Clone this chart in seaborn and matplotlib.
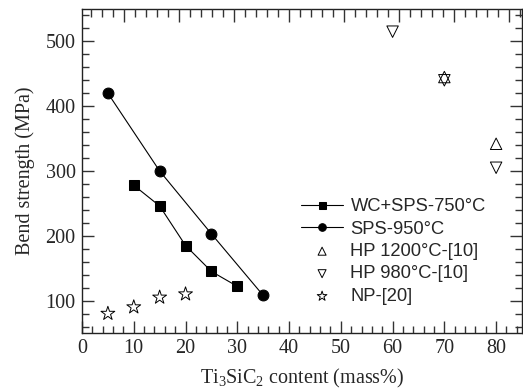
import matplotlib
matplotlib.use("Agg")
import matplotlib.pyplot as plt
from matplotlib.ticker import MultipleLocator
import seaborn as sns

# ---- data ----
x_wc = [10, 15, 20, 25, 30]
y_wc = [278, 246, 185, 145, 122]
x_sps = [5, 15, 25, 35]
y_sps = [420, 300, 203, 108]
x_hp1200 = [70, 80]
y_hp1200 = [445, 342]
x_hp980 = [60, 70, 80]
y_hp980 = [515, 440, 305]
x_np = [5, 10, 15, 20]
y_np = [80, 90, 105, 110]

labels = ["WC+SPS-750\u00b0C", "SPS-950\u00b0C", "HP 1200\u00b0C-[10]",
          "HP 980\u00b0C-[10]", "NP-[20]"]

sns.set_style("ticks")
plt.rcParams["font.family"] = ["Liberation Serif", "DejaVu Serif"]
plt.rcParams["mathtext.fontset"] = "custom"
plt.rcParams["mathtext.rm"] = "Liberation Serif"
plt.rcParams["mathtext.it"] = "Liberation Serif:italic"

fig = plt.figure(figsize=(5.23, 3.9), dpi=100)
ax = fig.add_axes([82 / 523, 1 - 333 / 390, (522 - 82) / 523, (333 - 9) / 390])

lw = 0.8
sns.lineplot(x=x_wc, y=y_wc, ax=ax, color="black", linewidth=lw, marker="s",
             markersize=7.2, markeredgecolor="black", markerfacecolor="black",
             label=labels[0])
sns.lineplot(x=x_sps, y=y_sps, ax=ax, color="black", linewidth=lw, marker="o",
             markersize=7.8, markeredgecolor="black", markerfacecolor="black",
             label=labels[1])
sns.scatterplot(x=x_hp1200, y=y_hp1200, ax=ax, marker="^", s=68,
                facecolors="none", edgecolors="black", linewidth=0.7,
                label=labels[2])
sns.scatterplot(x=x_hp980, y=y_hp980, ax=ax, marker="v", s=68,
                facecolors="none", edgecolors="black", linewidth=0.7,
                label=labels[3])
sns.scatterplot(x=x_np, y=y_np, ax=ax, marker="*", s=110,
                facecolors="none", edgecolors="black", linewidth=0.7,
                label=labels[4])

ax.set_xlim(0, 85)
ax.set_ylim(50, 550)
ax.xaxis.set_major_locator(MultipleLocator(10))
ax.xaxis.set_minor_locator(MultipleLocator(2))
ax.yaxis.set_major_locator(MultipleLocator(100))
ax.yaxis.set_minor_locator(MultipleLocator(20))
ax.set_xticks(range(0, 90, 10))
ax.set_yticks([100, 200, 300, 400, 500])

ax.tick_params(which="both", direction="in", top=False, right=True,
               labelsize=14.5, pad=4.5, width=1.0, color="#333333")
ax.tick_params(which="major", length=8.5)
ax.tick_params(which="minor", length=5)
for s in ax.spines.values():
    s.set_linewidth(1.0)
    s.set_color("#222222")

ax.set_xlabel("Ti$_3$SiC$_2$ content (mass%)", fontsize=14.5, labelpad=6)
ax.set_ylabel("Bend strength (MPa)", fontsize=14.5, labelpad=8)

# top axis with its own (offset) tick spacing, as in the reference
top = ax.twiny()
top.set_xlim(2.364, 82.31)
top.xaxis.set_major_locator(MultipleLocator(10))
top.xaxis.set_minor_locator(MultipleLocator(2))
top.tick_params(which="both", direction="in", labeltop=False, top=True,
                width=1.0, color="#333333")
top.tick_params(which="major", length=9)
top.tick_params(which="minor", length=5.5)
top.spines[:].set_visible(False)

leg = ax.legend(loc="upper left", bbox_to_anchor=(301 / 523, 1 - 198 / 390),
                bbox_transform=fig.transFigure, frameon=False,
                prop={"family": "Liberation Sans", "size": 13.2},
                handlelength=2.3, handletextpad=0.4, labelspacing=0.3,
                borderpad=0, borderaxespad=0, markerscale=0.7)

fig.savefig("out.png", dpi=100)
